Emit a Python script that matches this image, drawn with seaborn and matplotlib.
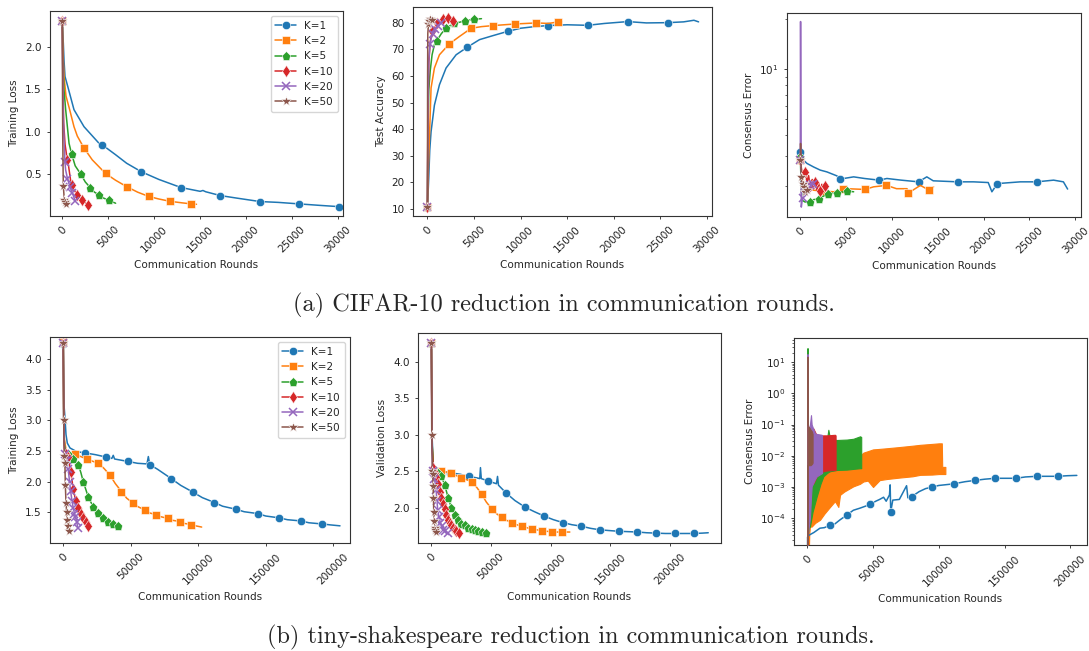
import numpy as np
import matplotlib
matplotlib.use("Agg")
import matplotlib.pyplot as plt
import seaborn as sns

# ---------------- data ----------------
labels = ["K=1", "K=2", "K=5", "K=10", "K=20", "K=50"]

# (a) CIFAR-10 training loss
c_tl_x = [
    [0, 60, 110, 185, 293, 600, 1270, 2360, 3990, 4300, 5800, 7000, 8600, 10500, 12900, 15000, 15300, 15600, 17200, 19000, 21500, 23500, 25800, 28000, 30100],
    [0, 40, 110, 185, 400, 800, 1270, 1630, 2350, 3260, 4700, 5800, 7000, 8200, 9400, 10500, 11700, 13000, 14050, 14600],
    [0, 30, 80, 180, 365, 730, 1010, 1400, 2020, 2500, 3030, 3500, 4040, 4500, 5050, 5800],
    [0, 30, 80, 150, 300, 540, 650, 900, 1080, 1200, 1620, 2000, 2160, 2400, 2750],
    [0, 30, 100, 185, 280, 365, 560, 730, 840, 1090, 1400],
    [0, 20, 40, 75, 110, 220, 330, 440],
]
c_tl_y = [
    [2.30, 2.15, 2.04, 1.84, 1.65, 1.53, 1.26, 1.06, 0.865, 0.85, 0.73, 0.63, 0.53, 0.44, 0.345, 0.30, 0.31, 0.295, 0.25, 0.22, 0.18, 0.17, 0.152, 0.135, 0.12],
    [2.30, 2.10, 1.84, 1.65, 1.42, 1.26, 1.06, 0.95, 0.81, 0.67, 0.51, 0.43, 0.355, 0.29, 0.24, 0.21, 0.183, 0.165, 0.152, 0.148],
    [2.30, 2.00, 1.75, 1.50, 1.26, 0.865, 0.74, 0.60, 0.50, 0.41, 0.345, 0.29, 0.255, 0.22, 0.195, 0.16],
    [2.30, 1.90, 1.50, 1.10, 0.85, 0.67, 0.62, 0.43, 0.38, 0.33, 0.26, 0.22, 0.20, 0.18, 0.14],
    [2.30, 1.80, 1.20, 0.92, 0.65, 0.55, 0.45, 0.39, 0.35, 0.28, 0.19],
    [2.30, 1.50, 1.00, 0.63, 0.36, 0.20, 0.17, 0.15],
]

# (a) CIFAR-10 test accuracy
c_ta_x = [
    [0, 60, 140, 250, 390, 750, 1290, 2000, 3080, 4300, 5590, 7020, 8600, 10000, 11500, 12900, 15000, 17200, 19000, 21500, 23500, 25800, 27500, 28600, 29100],
    [0, 100, 215, 390, 750, 1290, 2350, 3440, 4700, 5800, 7050, 9400, 11700, 13000, 14050, 14400],
    [0, 60, 150, 300, 500, 750, 1010, 1500, 2020, 2800, 3500, 4040, 5050, 5800],
    [0, 50, 150, 300, 540, 1080, 1300, 1500, 1620, 1800, 2000, 2160, 2400, 2550, 2700, 2800],
    [0, 60, 150, 280, 390, 560, 700, 840, 930, 1120, 1290, 1450],
    [0, 20, 40, 110, 220, 330, 450],
]
c_ta_y = [
    [10.5, 15, 21.5, 32, 39, 49, 56.7, 63, 68, 70.9, 73.7, 75.2, 76.8, 78.0, 78.6, 79.0, 79.3, 79.1, 79.8, 80.5, 80.0, 80.1, 80.4, 81.0, 80.4],
    [10.5, 25, 36.6, 55.5, 63, 68, 72.1, 74.9, 78.0, 78.6, 79.0, 79.6, 80.0, 79.8, 80.4, 80.5],
    [10.5, 40, 55, 62, 68, 71.8, 73.3, 76, 78, 79.8, 80.3, 80.8, 81.4, 81.6],
    [10.5, 45, 65, 73, 77, 79.8, 81.0, 80.2, 81.6, 80.4, 81.2, 82.0, 80.8, 81.9, 80.9, 81.2],
    [10.5, 50, 66, 72, 74, 76, 77, 77.8, 78.1, 78.8, 79.4, 80.0],
    [10.5, 60, 76, 79.5, 80.8, 81.5, 81.2],
]

# (a) CIFAR-10 consensus error
c_ce_x = [
    [0, 120, 364, 727, 1450, 2180, 2900, 4000, 4300, 5820, 7000, 8600, 9450, 11000, 12900, 13800, 14500, 17200, 18900, 20500, 20900, 21500, 24000, 25800, 27630, 28700, 29160],
    [0, 120, 364, 730, 1450, 2350, 3640, 4700, 5090, 7050, 8000, 9400, 10500, 11640, 11800, 13100, 14050, 14540],
    [0, 100, 180, 500, 1010, 1400, 2020, 2500, 3030, 4040, 4730, 5050, 5820],
    [0, 150, 364, 540, 730, 900, 1100, 1300, 1450, 1650, 1800, 2000, 2180, 2350, 2500, 2700, 2900],
    [0, 30, 60, 110, 200, 280, 364, 560, 730, 1090, 1400, 1640],
    [0, 30, 80, 110, 150, 250, 364, 545, 730],
]
c_ce_y = [
    [3.19, 2.95, 2.84, 2.72, 2.59, 2.48, 2.42, 2.29, 2.19, 2.26, 2.21, 2.16, 2.21, 2.16, 2.11, 2.26, 2.14, 2.11, 2.11, 2.09, 1.84, 2.06, 2.11, 2.11, 2.16, 2.11, 1.91],
    [2.87, 2.37, 2.08, 1.97, 1.88, 1.86, 1.84, 1.90, 1.92, 1.90, 1.97, 2.01, 1.92, 1.92, 1.81, 2.01, 1.88, 1.97],
    [2.98, 1.97, 1.64, 1.60, 1.60, 1.65, 1.67, 1.73, 1.79, 1.82, 1.84, 1.86, 1.84],
    [2.84, 2.48, 2.31, 2.40, 2.10, 2.30, 1.98, 2.18, 1.92, 2.12, 1.88, 2.08, 1.86, 2.04, 1.88, 2.00, 1.88],
    [2.84, 19.2, 6.5, 1.49, 1.64, 1.70, 1.79, 1.90, 1.97, 2.01, 2.06, 2.01],
    [2.84, 3.58, 2.84, 2.26, 2.15, 2.06, 1.97, 1.84, 1.88],
]

# (b) tiny-shakespeare training loss
s_tl_x = [
    [0, 300, 700, 1260, 2000, 2960, 4960, 9900, 16000, 24000, 32000, 36000, 37000, 38000, 48000, 55000, 62000, 63000, 64000, 70000, 80000, 87000, 96000, 103000, 112000, 118000, 128000, 134000, 144000, 150000, 160000, 166000, 176000, 182000, 192000, 198000, 205000],
    [0, 300, 800, 2000, 5000, 8630, 17260, 25900, 30000, 34500, 38500, 43100, 47000, 51800, 55500, 60400, 64000, 69000, 72000, 77700, 81000, 86300, 89500, 94900, 98000, 102500],
    [0, 300, 800, 2000, 3700, 7400, 11100, 13000, 14800, 18500, 22200, 25900, 29600, 33300, 37000, 40700],
    [0, 300, 800, 1850, 3700, 5550, 7400, 9250, 11100, 12950, 14800, 16650, 18500, 20000],
    [0, 300, 1000, 2500, 3700, 4600, 5400, 6500, 7400, 8300, 9000, 9900, 10800],
    [0, 300, 700, 1200, 1500, 2000, 2500, 3000, 3600, 4200],
]
s_tl_y = [
    [4.25, 3.6, 3.2, 3.04, 2.77, 2.63, 2.55, 2.49, 2.47, 2.44, 2.40, 2.38, 2.43, 2.37, 2.33, 2.30, 2.29, 2.41, 2.28, 2.20, 2.05, 1.94, 1.83, 1.74, 1.66, 1.60, 1.55, 1.51, 1.48, 1.44, 1.41, 1.38, 1.36, 1.33, 1.31, 1.295, 1.28],
    [4.28, 3.2, 2.7, 2.52, 2.47, 2.45, 2.37, 2.30, 2.22, 2.11, 1.97, 1.84, 1.73, 1.65, 1.59, 1.54, 1.49, 1.46, 1.43, 1.40, 1.37, 1.35, 1.32, 1.30, 1.28, 1.26],
    [4.26, 3.0, 2.6, 2.47, 2.45, 2.37, 2.28, 2.15, 2.0, 1.75, 1.59, 1.49, 1.41, 1.35, 1.31, 1.27],
    [4.26, 3.0, 2.55, 2.45, 2.40, 2.15, 1.88, 1.68, 1.57, 1.48, 1.41, 1.34, 1.28, 1.24],
    [4.26, 3.0, 2.45, 2.35, 2.20, 2.00, 1.85, 1.68, 1.57, 1.48, 1.42, 1.35, 1.24],
    [4.26, 3.0, 2.42, 2.30, 1.95, 1.66, 1.50, 1.38, 1.27, 1.19],
]

# (b) tiny-shakespeare validation loss
s_vl_x = [
    [0, 500, 1500, 4000, 8000, 15700, 24000, 31400, 38000, 40500, 41100, 41800, 47100, 54500, 55400, 56200, 62800, 70000, 78500, 86000, 94200, 102000, 109900, 117700, 125600, 133500, 141300, 149000, 157000, 165000, 172700, 180500, 188400, 196000, 204000, 212000, 219800, 227000, 232000],
    [0, 500, 1500, 4000, 8400, 16800, 25200, 33600, 38000, 42000, 46000, 50400, 54600, 58800, 63000, 67200, 71400, 75600, 79800, 84000, 88200, 92400, 96600, 100800, 105000, 109200, 113400, 116000],
    [0, 500, 1500, 2800, 5600, 8400, 11200, 14000, 16800, 19600, 22400, 25200, 28000, 30800, 33600, 36400, 39200, 42000, 46000],
    [0, 400, 1500, 2800, 4200, 5600, 7000, 8400, 9800, 11200, 12600, 14000, 15400, 16800, 18200, 19600, 21000, 23500],
    [0, 300, 1000, 2500, 3900, 4600, 5300, 6200, 7500, 8700, 10000, 11500, 13500],
    [0, 300, 800, 1100, 1400, 1700, 1950, 2250, 2500, 3000, 3400, 3900],
]
s_vl_y = [
    [4.25, 3.0, 2.6, 2.52, 2.50, 2.48, 2.46, 2.43, 2.41, 2.40, 2.55, 2.40, 2.37, 2.33, 2.43, 2.31, 2.20, 2.10, 2.01, 1.95, 1.89, 1.84, 1.80, 1.77, 1.75, 1.72, 1.70, 1.69, 1.68, 1.675, 1.67, 1.66, 1.655, 1.65, 1.65, 1.65, 1.65, 1.655, 1.66],
    [4.25, 2.9, 2.58, 2.53, 2.51, 2.47, 2.41, 2.36, 2.28, 2.19, 2.08, 1.99, 1.92, 1.87, 1.83, 1.80, 1.77, 1.75, 1.73, 1.71, 1.70, 1.69, 1.68, 1.675, 1.67, 1.67, 1.67, 1.67],
    [4.25, 2.9, 2.6, 2.52, 2.48, 2.43, 2.31, 2.14, 2.0, 1.90, 1.83, 1.78, 1.76, 1.73, 1.715, 1.70, 1.68, 1.67, 1.66],
    [4.25, 2.9, 2.55, 2.47, 2.42, 2.33, 2.22, 2.14, 2.05, 1.98, 1.90, 1.84, 1.79, 1.76, 1.72, 1.70, 1.68, 1.66],
    [4.25, 2.9, 2.5, 2.40, 2.25, 2.10, 1.97, 1.88, 1.80, 1.75, 1.70, 1.68, 1.66],
    [4.25, 3.0, 2.5, 2.46, 2.30, 2.14, 1.94, 1.88, 1.82, 1.73, 1.70, 1.67],
]

# (b) tiny-shakespeare consensus error: K=1 is a line, the others are oscillating bands (low / high)
s_ce1_x = [0, 200, 1500, 5000, 9600, 13000, 17300, 21000, 24900, 30000, 35000, 40000, 45000, 48000, 52000, 55000, 58000, 60000, 62500, 63000, 63450, 65000, 70000, 75500, 76500, 79400, 85000, 90000, 95200, 100000, 111200, 120000, 127200, 135000, 142900, 150000, 158600, 166000, 174600, 182000, 190600, 198000, 205000]
s_ce1_y = [1e-7, 2.5e-5, 2.9e-5, 3.5e-5, 4.8e-5, 5.0e-5, 6.0e-5, 6.6e-5, 8.9e-5, 1.26e-4, 1.8e-4, 2.1e-4, 2.5e-4, 2.8e-4, 3.5e-4, 4.0e-4, 4.7e-4, 3.5e-4, 5.6e-4, 1.17e-3, 1.6e-4, 3.8e-4, 4.0e-4, 1.1e-3, 4.5e-4, 4.9e-4, 7.1e-4, 8.9e-4, 1.0e-3, 1.12e-3, 1.26e-3, 1.48e-3, 1.62e-3, 1.78e-3, 1.9e-3, 1.9e-3, 1.9e-3, 2.1e-3, 2.2e-3, 2.2e-3, 2.2e-3, 2.3e-3, 2.35e-3]

s_ce_band_x = [
    [0, 1500, 2000, 3300, 6000, 9650, 13000, 17260, 21000, 23600, 24870, 28000, 35000, 40000, 42640, 46000, 50000, 55000, 60400, 70000, 80000, 85800, 95000, 100000, 102300, 102600, 105000],
    [0, 150, 400, 1000, 2000, 4000, 7100, 10000, 12200, 15000, 16000, 17260, 22300, 30000, 35000, 40100, 41000],
    [0, 150, 400, 1000, 2000, 3000, 4570, 7100, 9650, 12200, 15000, 21000, 21500],
    [0, 150, 500, 1000, 2000, 2800, 3300, 5840, 7100, 10900, 11200],
    [0, 100, 300, 760, 1500, 2500, 3500, 4000],
]
s_ce_band_lo = [
    [1e-7, 3.2e-5, 5.4e-5, 5.4e-5, 7.1e-5, 8.9e-5, 1.4e-4, 2.3e-4, 3.5e-4, 2.3e-4, 5.6e-4, 7.1e-4, 1.05e-3, 1.26e-3, 1.5e-3, 1.6e-3, 1.0e-3, 1.66e-3, 1.8e-3, 2.0e-3, 2.2e-3, 2.45e-3, 2.5e-3, 2.6e-3, 2.6e-3, 2.6e-3, 2.6e-3],
    [1e-7, 1e-5, 3e-5, 5e-5, 5.4e-5, 1.6e-4, 4.9e-4, 1.26e-3, 2.2e-3, 2.8e-3, 3.0e-3, 3.2e-3, 3.5e-3, 3.6e-3, 3.8e-3, 4.0e-3, 4.0e-3],
    [1e-7, 1e-5, 3e-4, 8e-4, 1.3e-3, 1.3e-3, 1.3e-3, 2.2e-3, 2.8e-3, 3.2e-3, 3.4e-3, 3.5e-3, 3.5e-3],
    [1e-7, 1e-5, 3e-5, 5e-5, 1e-4, 5e-4, 1.05e-3, 1.8e-3, 2.2e-3, 2.75e-3, 2.8e-3],
    [1e-7, 1e-6, 5e-3, 5e-3, 5e-3, 5e-3, 5.5e-3, 6e-3],
]
s_ce_band_hi = [
    [1e-7, 1e-3, 3.2e-3, 6.3e-3, 1e-2, 1e-2, 1e-2, 1e-2, 1e-2, 1e-2, 1e-2, 1e-2, 1e-2, 1e-2, 1.26e-2, 1.4e-2, 1.6e-2, 1.66e-2, 1.74e-2, 1.9e-2, 2.1e-2, 2.24e-2, 2.4e-2, 2.5e-2, 2.5e-2, 4.4e-3, 4.4e-3],
    [1e-7, 28, 0.1, 0.05, 0.04, 0.04, 0.035, 0.035, 0.035, 0.035, 0.068, 0.035, 0.032, 0.033, 0.035, 0.042, 0.04],
    [1e-7, 10, 0.06, 0.05, 0.06, 0.075, 0.075, 0.045, 0.044, 0.045, 0.045, 0.047, 0.045],
    [1e-7, 18, 0.1, 0.05, 0.1, 0.2, 0.1, 0.052, 0.05, 0.047, 0.045],
    [1e-7, 15, 0.1, 0.087, 0.08, 0.068, 0.06, 0.05],
]

# ---------------- style ----------------
sns.set_style("ticks")
plt.rcParams["font.family"] = ["DejaVu Sans"]
FS = 7.5
plt.rcParams.update({
    "axes.edgecolor": "#333333",
    "axes.linewidth": 0.8,
    "xtick.color": "#222222",
    "ytick.color": "#222222",
    "xtick.major.size": 2.5,
    "ytick.major.size": 2.5,
    "xtick.minor.size": 1.5,
    "ytick.minor.size": 1.5,
    "xtick.major.width": 0.6,
    "ytick.major.width": 0.6,
    "ytick.minor.width": 0.5,
})

colors = ["#1f77b4", "#ff7f0e", "#2ca02c", "#d62728", "#9467bd", "#8c564b"]
markers = ["o", "s", "p", "d", "x", "*"]
msizes = [6, 6, 6.5, 6, 5.5, 7.5]

W, H = 1089, 651
fig = plt.figure(figsize=(W / 100, H / 100), dpi=100)


def add_ax(l, t, r, b):
    return fig.add_axes([l / W, 1 - b / H, (r - l) / W, (b - t) / H])


def mark_idx(x, spacing):
    x = np.asarray(x, dtype=float)
    marks = np.arange(0, x.max() + 1, spacing)
    return sorted(set(int(np.argmin(np.abs(x - m))) for m in marks))


def draw(ax, x, y, i, spacing, label=None):
    filled = markers[i] != "x"
    kw = dict(color=colors[i], marker=markers[i], markevery=mark_idx(x, spacing),
              markersize=msizes[i], linewidth=1.1,
              markeredgecolor="#ffffff" if filled else colors[i],
              markeredgewidth=0.4 if filled else 1.1)
    if label is not None:
        kw["label"] = label
    sns.lineplot(x=np.asarray(x), y=np.asarray(y), ax=ax, estimator=None, sort=False, **kw)


def style(ax, ylabel, xlim, ylim):
    ax.set_xlim(*xlim)
    ax.set_ylim(*ylim)
    ax.set_xlabel("Communication Rounds", fontsize=FS)
    ax.set_ylabel(ylabel, fontsize=FS)
    ax.tick_params(axis="both", labelsize=FS)
    ax.tick_params(axis="x", labelrotation=45)
    for s in ax.spines.values():
        s.set_visible(True)


sp_a = [4300, 2350, 1010, 540, 280, 110]

# --- plot 1
ax1 = add_ax(50, 11, 343, 216)
for i in range(6):
    draw(ax1, c_tl_x[i], c_tl_y[i], i, sp_a[i], labels[i])
style(ax1, "Training Loss", (-1340, 30540), (0.01, 2.42))
ax1.set_yticks([0.5, 1.0, 1.5, 2.0])
ax1.set_xticks([0, 5000, 10000, 15000, 20000, 25000, 30000])
ax1.legend(loc="upper right", fontsize=FS, frameon=True, handlelength=2.0, borderpad=0.45, labelspacing=0.5)

# --- plot 2
ax2 = add_ax(413, 7, 712, 216)
for i in range(6):
    draw(ax2, c_ta_x[i], c_ta_y[i], i, sp_a[i])
style(ax2, "Test Accuracy", (-1548, 30540), (7.24, 86.0))
ax2.set_yticks([10, 20, 30, 40, 50, 60, 70, 80])
ax2.set_xticks([0, 5000, 10000, 15000, 20000, 25000, 30000])

# --- plot 3
ax3 = add_ax(787, 13, 1081, 217)
ax3.set_yscale("log")
for i in range(6):
    draw(ax3, c_ce_x[i], c_ce_y[i], i, sp_a[i])
style(ax3, "Consensus Error", (-1450, 30620), (1.30, 21.6))
ax3.set_xticks([0, 5000, 10000, 15000, 20000, 25000, 30000])

# --- plot 4
sp_b = [16000, 8630, 3700, 1850, 900, 400]
ax4 = add_ax(50, 337, 350, 543)
for i in range(6):
    draw(ax4, s_tl_x[i], s_tl_y[i], i, sp_b[i], labels[i])
style(ax4, "Training Loss", (-9850, 212400), (1.0, 4.36))
ax4.set_yticks([1.5, 2.0, 2.5, 3.0, 3.5, 4.0])
ax4.set_xticks([0, 50000, 100000, 150000, 200000])
ax4.legend(loc="upper right", fontsize=FS, frameon=True, handlelength=2.0, borderpad=0.45, labelspacing=0.5)

# --- plot 5
sp_c = [15700, 8400, 2800, 1400, 700, 300]
ax5 = add_ax(418, 333, 721, 543)
for i in range(6):
    draw(ax5, s_vl_x[i], s_vl_y[i], i, sp_c[i])
style(ax5, "Validation Loss", (-11250, 242700), (1.52, 4.39))
ax5.set_yticks([2.0, 2.5, 3.0, 3.5, 4.0])
ax5.set_xticks([0, 50000, 100000, 150000, 200000])

# --- plot 6
ax6 = add_ax(794, 338, 1087, 545)
ax6.set_yscale("log")
for j in range(5):
    ax6.fill_between(s_ce_band_x[j], s_ce_band_lo[j], s_ce_band_hi[j],
                     color=colors[j + 1], linewidth=0.8, edgecolor=colors[j + 1], zorder=2 + j)
draw(ax6, s_ce1_x, s_ce1_y, 0, 15900)
style(ax6, "Consensus Error", (-10130, 212740), (1.39e-5, 59))
ax6.set_xticks([0, 50000, 100000, 150000, 200000])

# captions
fig.text(564 / W, 1 - 305 / H, "(a) CIFAR-10 reduction in communication rounds.",
         ha="center", va="center", fontsize=17.5, family="cmr10")
fig.text(571 / W, 1 - 637 / H, "(b) tiny-shakespeare reduction in communication rounds.",
         ha="center", va="center", fontsize=17.5, family="cmr10")

fig.savefig("out.png", dpi=100)
